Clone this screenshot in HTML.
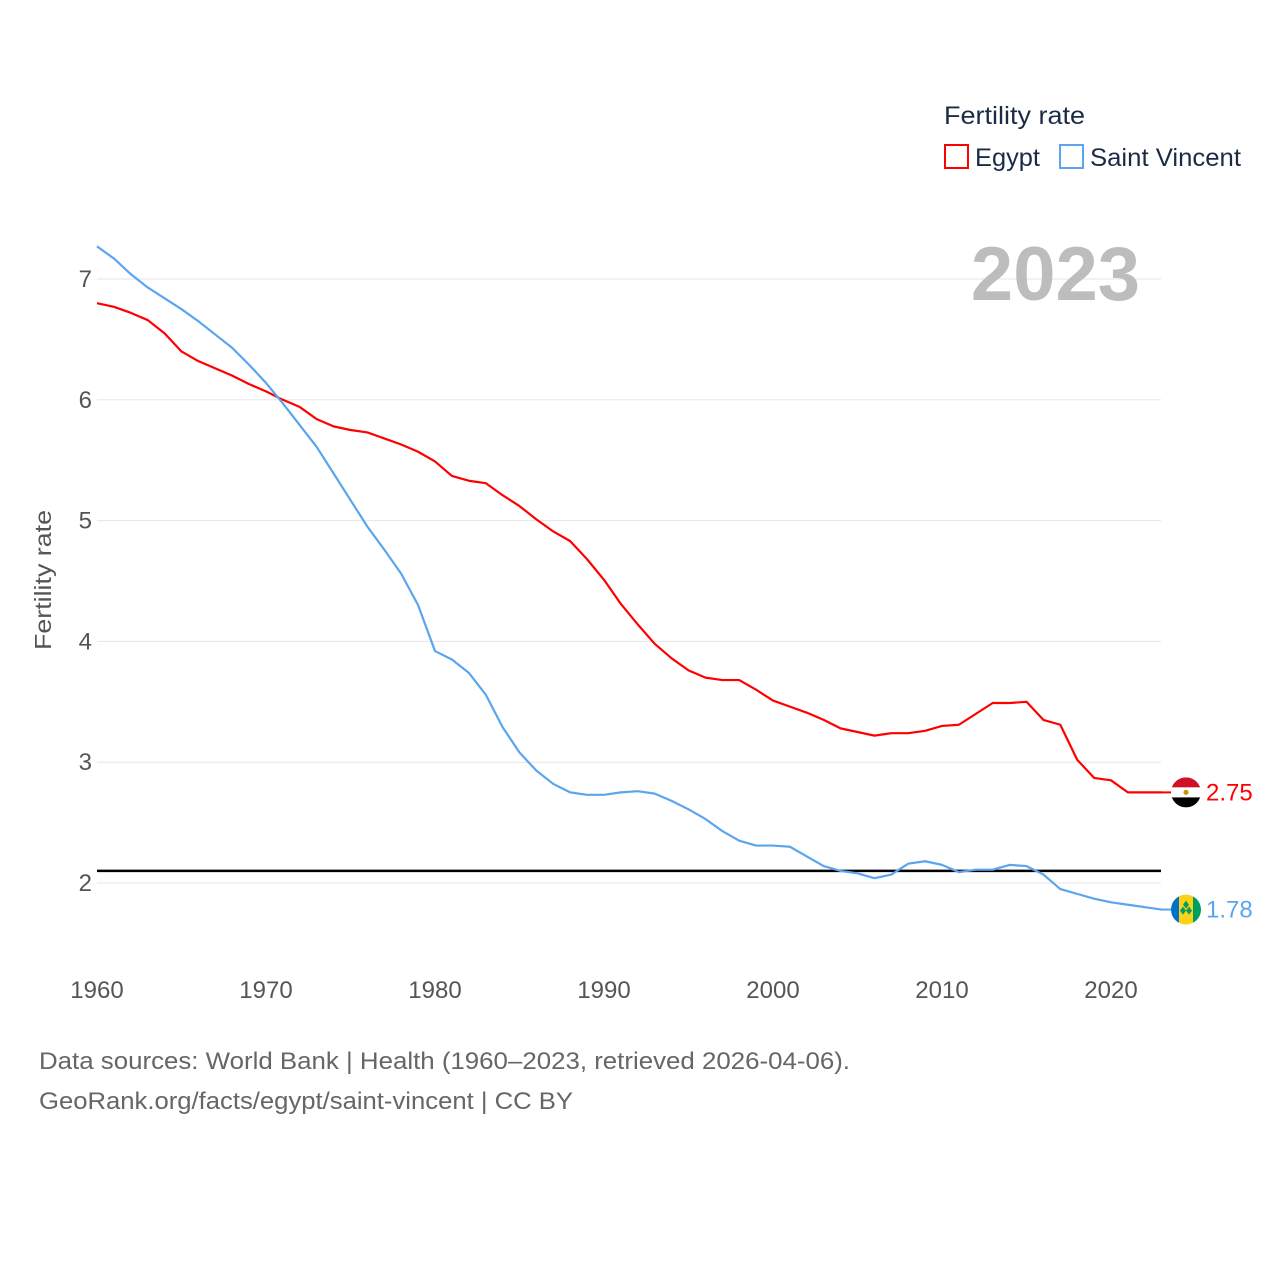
<!DOCTYPE html>
<html><head><meta charset="utf-8"><style>
body{margin:0;background:#fff;font-family:"Liberation Sans",sans-serif}
</style></head><body>
<svg id="chart" width="1280" height="1280" xmlns="http://www.w3.org/2000/svg" style="display:block">
<rect width="1280" height="1280" fill="#fff"/>
<g id="grid"></g>
<g id="yticks"></g>
<g id="xticks"></g>
<text transform="translate(51,580) rotate(-90)" text-anchor="middle" font-size="23" fill="#555" textLength="140" lengthAdjust="spacingAndGlyphs">Fertility rate</text>
<text x="1140" y="300" text-anchor="end" font-size="76" font-weight="bold" fill="#bdbdbd">2023</text>
<g>
<text x="944" y="124" font-size="25" fill="#1c2b45" textLength="141" lengthAdjust="spacingAndGlyphs">Fertility rate</text>
<rect x="945" y="145" width="23" height="23" fill="none" stroke="#f00" stroke-width="2"/>
<text x="975" y="166" font-size="25" fill="#1c2b45" textLength="65" lengthAdjust="spacingAndGlyphs">Egypt</text>
<rect x="1060" y="145" width="23" height="23" fill="none" stroke="#5aa5ee" stroke-width="2"/>
<text x="1090" y="166" font-size="25" fill="#1c2b45" textLength="151" lengthAdjust="spacingAndGlyphs">Saint Vincent</text>
</g>
<g id="series"></g>
<g font-size="24" fill="#666">
<text x="39" y="1069" textLength="811" lengthAdjust="spacingAndGlyphs">Data sources: World Bank | Health (1960–2023, retrieved 2026-04-06).</text>
<text x="39" y="1109" textLength="534" lengthAdjust="spacingAndGlyphs">GeoRank.org/facts/egypt/saint-vincent | CC BY</text>
</g>
</svg>
<script>
const years=[];for(let y=1960;y<=2023;y++)years.push(y);
const egypt=[6.80,6.77,6.72,6.66,6.55,6.40,6.32,6.26,6.20,6.13,6.07,6.00,5.94,5.84,5.78,5.75,5.73,5.68,5.63,5.57,5.49,5.37,5.33,5.31,5.21,5.12,5.01,4.91,4.83,4.68,4.51,4.31,4.14,3.98,3.86,3.76,3.70,3.68,3.68,3.60,3.51,3.46,3.41,3.35,3.28,3.25,3.22,3.24,3.24,3.26,3.30,3.31,3.40,3.49,3.49,3.50,3.35,3.31,3.02,2.87,2.85,2.75,2.75,2.75];
const svg=[7.27,7.17,7.04,6.93,6.84,6.75,6.65,6.54,6.43,6.29,6.14,5.97,5.79,5.61,5.39,5.17,4.95,4.76,4.56,4.30,3.92,3.85,3.74,3.56,3.29,3.08,2.93,2.82,2.75,2.73,2.73,2.75,2.76,2.74,2.68,2.61,2.53,2.43,2.35,2.31,2.31,2.30,2.22,2.14,2.10,2.08,2.04,2.07,2.16,2.18,2.15,2.09,2.11,2.11,2.15,2.14,2.07,1.95,1.91,1.87,1.84,1.82,1.80,1.78];
const yTicks=[2,3,4,5,6,7];
const xTicks=[1960,1970,1980,1990,2000,2010,2020];
const refValue=2.1;
const NS="http://www.w3.org/2000/svg";
const X=y=>97+(y-1960)*(1111-97)/60;
const Y=v=>883-(v-2)*120.8;
function mk(tag,attrs,parent){const e=document.createElementNS(NS,tag);for(const k in attrs)e.setAttribute(k,attrs[k]);parent.appendChild(e);return e;}
const grid=document.getElementById('grid'),yt=document.getElementById('yticks'),xt=document.getElementById('xticks'),ser=document.getElementById('series');
yTicks.forEach(v=>{
 const l=mk('line',{x1:97,x2:1161,y1:Y(v),y2:Y(v),stroke:'#e6e6e6','stroke-width':1},grid);
 
 
 const t=mk('text',{x:92,y:Y(v)+8,'text-anchor':'end','font-size':24,fill:'#555'},yt);
 t.textContent=v;
 
 
});
xTicks.forEach(v=>{
 const t=mk('text',{x:X(v),y:998,'text-anchor':'middle','font-size':24,fill:'#555'},xt);
 t.textContent=v;
 
 
});
const ref=mk('line',{x1:97,x2:1161,y1:Y(refValue),y2:Y(refValue),stroke:'#000','stroke-width':2.5},ser);


function line(vals,color,name){
 const p=mk('polyline',{points:vals.map((v,i)=>X(years[i])+','+Y(v)).join(' '),fill:'none',stroke:color,'stroke-width':2.2,'stroke-linejoin':'round'},ser);
 
 
}
line(egypt,'#f00','egypt-line');
line(svg,'#5aa5ee','saint-vincent-line');
const le=egypt[egypt.length-1],ls=svg[svg.length-1];
const ye=Y(le),ys=Y(ls);
const ge=mk('g',{},ser);


mk('line',{x1:1161,x2:1172,y1:ye,y2:ye,stroke:'#f00','stroke-width':2},ge);
const cpe=mk('clipPath',{id:'ce'},ge);mk('circle',{cx:1186,cy:ye,r:15},cpe);
const gc=mk('g',{'clip-path':'url(#ce)'},ge);
mk('rect',{x:1171,y:ye-15,width:30,height:10,fill:'#ce1126'},gc);
mk('rect',{x:1171,y:ye-5,width:30,height:10,fill:'#fff'},gc);
mk('rect',{x:1171,y:ye+5,width:30,height:10,fill:'#000'},gc);
mk('circle',{cx:1186,cy:ye,r:2.5,fill:'#c09300'},gc);
const te=mk('text',{x:1206,y:ye+8,'font-size':24,fill:'#f00'},ser);
te.textContent=le.toFixed(2);


const gs=mk('g',{},ser);


mk('line',{x1:1161,x2:1172,y1:ys,y2:ys,stroke:'#5aa5ee','stroke-width':2},gs);
const cp=mk('clipPath',{id:'cs'},gs);mk('circle',{cx:1186,cy:ys,r:15},cp);
const gc2=mk('g',{'clip-path':'url(#cs)'},gs);
mk('rect',{x:1171,y:ys-15,width:8,height:30,fill:'#0072c6'},gc2);
mk('rect',{x:1179,y:ys-15,width:14,height:30,fill:'#fcd116'},gc2);
mk('rect',{x:1193,y:ys-15,width:8,height:30,fill:'#009e60'},gc2);
mk('path',{d:`M1183,${ys-5}l3,-4l3,4l-3,4zM1180,${ys+1}l3,-4l3,4l-3,4zM1186,${ys+1}l3,-4l3,4l-3,4z`,fill:'#009e60'},gc2);
const ts=mk('text',{x:1206,y:ys+8,'font-size':24,fill:'#5aa5ee'},ser);
ts.textContent=ls.toFixed(2);


</script>
</body></html>
